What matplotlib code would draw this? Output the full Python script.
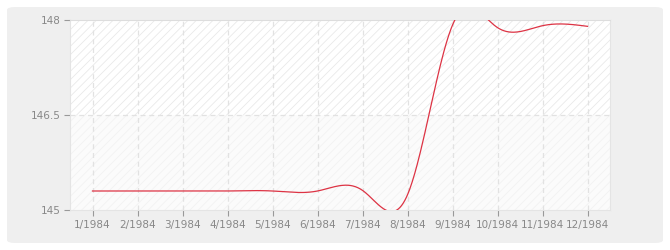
import numpy as np
import matplotlib.pyplot as plt
from matplotlib.patches import FancyBboxPatch

# monthly values
months = np.arange(1, 13)
labels = [f"{m}/1984" for m in months]
values = [145.3, 145.3, 145.3, 145.3, 145.3, 145.3,
          145.31, 145.24, 147.92, 147.88, 147.91, 147.9]
yticks = [145, 146.5, 148]


def natural_spline(x, y, n=600):
    # plain natural cubic spline, only used to draw the smooth line
    x = np.asarray(x, float)
    y = np.asarray(y, float)
    k = len(x)
    h = np.diff(x)
    A = np.zeros((k, k))
    b = np.zeros(k)
    A[0, 0] = A[-1, -1] = 1
    for i in range(1, k - 1):
        A[i, i - 1] = h[i - 1]
        A[i, i] = 2 * (h[i - 1] + h[i])
        A[i, i + 1] = h[i]
        b[i] = 6 * ((y[i + 1] - y[i]) / h[i] - (y[i] - y[i - 1]) / h[i - 1])
    M = np.linalg.solve(A, b)
    xs = np.linspace(x[0], x[-1], n)
    idx = np.clip(np.searchsorted(x, xs) - 1, 0, k - 2)
    x0, x1 = x[idx], x[idx + 1]
    hh = x1 - x0
    t0, t1 = x1 - xs, xs - x0
    ys = (M[idx] * t0**3 + M[idx + 1] * t1**3) / (6 * hh) \
        + (y[idx] / hh - M[idx] * hh / 6) * t0 \
        + (y[idx + 1] / hh - M[idx + 1] * hh / 6) * t1
    return xs, ys


plt.rcParams['hatch.linewidth'] = 0.6

fig = plt.figure(figsize=(6.7, 2.5), dpi=100)
fig.patch.set_facecolor('white')
fig.patches.append(FancyBboxPatch((7 / 670, 7 / 250), 656 / 670, 236 / 250,
                                  boxstyle="round,pad=0,rounding_size=0.012",
                                  transform=fig.transFigure, facecolor='#efefef',
                                  edgecolor='none', zorder=-5))

ax = fig.add_axes([70 / 670, 40 / 250, 540 / 670, 190 / 250])
ax.set_zorder(1)
ax.set_facecolor('#fcfcfc')

# striped background, upper band a bit stronger than the lower one
ax.axhspan(146.5, 148, facecolor='#ffffff', edgecolor='#e9e9e9', hatch='////', linewidth=0, zorder=0)
ax.axhspan(145, 146.5, facecolor='#fbfbfb', edgecolor='#f2f2f2', hatch='////', linewidth=0, zorder=0)

for m in months:
    ax.axvline(m, color='#e2e2e2', linestyle=(0, (4, 3)), linewidth=0.9, zorder=1)
ax.axhline(146.5, color='#e2e2e2', linestyle=(0, (4, 3)), linewidth=0.9, zorder=1)

xs, ys = natural_spline(months, values)
ax.plot(xs, ys, color='#dd3344', linewidth=0.9, zorder=3)

ax.set_xlim(0.5, 12.5)
ax.set_ylim(145, 148)
ax.set_xticks(months)
ax.set_xticklabels(labels)
ax.set_yticks(yticks)
ax.set_yticklabels(['145', '146.5', '148'])
ax.tick_params(axis='both', colors='#999999', labelcolor='#888888', labelsize=7.5,
               length=4, width=0.8, pad=3)

for side in ['left', 'bottom', 'right']:
    ax.spines[side].set_color('#e4e4e4')
ax.spines['top'].set_color('#dddddd')

plt.savefig('out.png', dpi=100)
